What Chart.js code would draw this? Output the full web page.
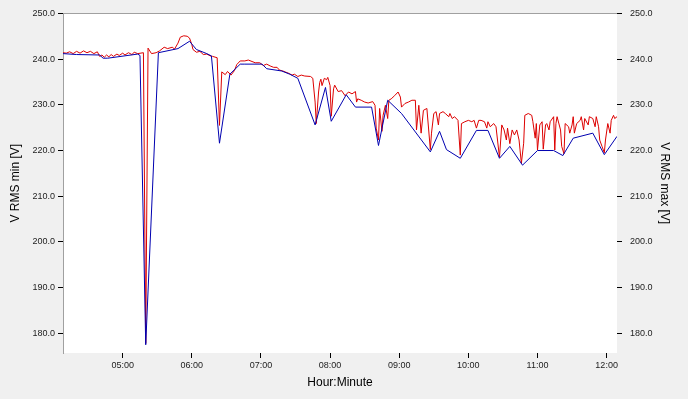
<!DOCTYPE html>
<html>
  <head>
    <title>V RMS min / max</title>
    <style>
      body {
        margin: 0;
        padding: 0;
        background-color: #f0f0f0;
      }

      #chart-container {
        width: 688px;
        height: 399px;
      }
    </style>
  </head>
  <body>
    <div id="chart-container">
      <canvas id="vrms-chart" width="688" height="399"></canvas>
    </div>

    <script src="https://cdn.jsdelivr.net/npm/chart.js"></script>
    <script>
      // V RMS min (left axis, blue)
      const minTimes = [
        "04:08", "04:20", "04:40", "04:43", "04:47", "05:13", "05:15", "05:20",
        "05:31", "05:48", "05:58", "06:04", "06:13", "06:17", "06:24", "06:33",
        "06:42", "06:46", "07:01", "07:05", "07:18", "07:25", "07:32", "07:47",
        "07:56", "08:01", "08:14", "08:22", "08:36", "08:42", "08:50", "09:02",
        "09:27", "09:35", "09:41", "09:53", "10:07", "10:17", "10:27", "10:36",
        "10:47", "11:00", "11:14", "11:22", "11:31", "11:48", "11:58", "12:09",
      ];
      const minValues = [
        241.2, 241.0, 240.9, 240.2, 240.2, 241.1, 240.8, 177.5,
        241.4, 242.3, 243.9, 242.1, 241.2, 240.7, 221.6, 236.7,
        238.9, 238.9, 238.9, 237.9, 237.4, 236.7, 235.8, 225.6,
        233.8, 226.4, 232.2, 229.5, 229.5, 221.1, 231.0, 228.1,
        219.7, 224.2, 220.2, 218.3, 224.4, 224.4, 218.3, 220.9,
        216.8, 220.0, 220.0, 218.9, 222.7, 223.8, 219.1, 223.1,
      ];

      // V RMS max (right axis, red)
      const maxTimes = [
        "04:08", "04:11", "04:14", "04:17", "04:20", "04:23", "04:26", "04:29",
        "04:32", "04:35", "04:38", "04:40", "04:42", "04:44", "04:46", "04:48",
        "04:50", "04:52", "04:55", "04:57", "05:00", "05:02", "05:05", "05:08",
        "05:10", "05:13", "05:18", "05:20", "05:22", "05:25", "05:29", "05:32",
        "05:36", "05:39", "05:43", "05:45", "05:48", "05:50", "05:53", "05:56",
        "05:58", "06:00", "06:01", "06:04", "06:07", "06:10", "06:13", "06:16",
        "06:18", "06:22", "06:24", "06:26", "06:29", "06:31", "06:34", "06:37",
        "06:39", "06:42", "06:46", "06:49", "06:55", "06:59", "07:02", "07:05",
        "07:08", "07:11", "07:14", "07:16", "07:19", "07:21", "07:24", "07:27",
        "07:29", "07:32", "07:35", "07:38", "07:43", "07:45", "07:47", "07:48",
        "07:50", "07:51", "07:52", "07:53", "07:55", "07:57", "07:58", "08:00",
        "08:01", "08:03", "08:04", "08:07", "08:10", "08:13", "08:16", "08:19",
        "08:22", "08:23", "08:24", "08:27", "08:30", "08:33", "08:37", "08:39",
        "08:40", "08:42", "08:43", "08:45", "08:46", "08:48", "08:50", "08:51",
        "08:53", "08:56", "08:59", "09:01", "09:02", "09:05", "09:08", "09:11",
        "09:14", "09:15", "09:17", "09:19", "09:21", "09:24", "09:27", "09:28",
        "09:30", "09:32", "09:34", "09:35", "09:38", "09:40", "09:43", "09:44",
        "09:46", "09:48", "09:51", "09:53", "09:54", "09:57", "10:00", "10:03",
        "10:05", "10:07", "10:09", "10:11", "10:14", "10:16", "10:17", "10:19",
        "10:22", "10:24", "10:27", "10:29", "10:31", "10:33", "10:34", "10:36",
        "10:38", "10:40", "10:42", "10:44", "10:46", "10:48", "10:49", "10:52",
        "10:55", "10:56", "10:58", "10:59", "11:00", "11:02", "11:04", "11:05",
        "11:07", "11:08", "11:10", "11:11", "11:14", "11:15", "11:16", "11:17",
        "11:20", "11:21", "11:23", "11:24", "11:27", "11:28", "11:30", "11:31",
        "11:32", "11:34", "11:37", "11:38", "11:40", "11:41", "11:44", "11:45",
        "11:48", "11:50", "11:51", "11:53", "11:54", "11:56", "11:58", "11:59",
        "12:01", "12:03", "12:04", "12:06", "12:07", "12:09",
      ];
      const maxValues = [
        241.4, 241.3, 241.6, 241.2, 241.7, 241.3, 241.8, 241.4,
        241.7, 241.2, 241.6, 240.6, 240.9, 240.4, 240.9, 240.5,
        241.0, 240.6, 241.1, 240.8, 241.3, 240.9, 241.4, 241.0,
        241.5, 241.2, 241.4, 177.8, 242.4, 241.2, 241.4, 241.8,
        242.6, 242.3, 242.6, 242.2, 243.5, 244.8, 245.1, 245.0,
        244.6, 243.2, 242.1, 241.5, 241.7, 241.0, 241.1, 240.7,
        240.6, 240.3, 225.5, 237.2, 236.6, 237.3, 236.5, 237.5,
        238.8, 239.6, 239.6, 239.8, 239.2, 239.2, 238.6, 238.9,
        238.5, 238.2, 238.2, 237.6, 237.4, 237.2, 236.9, 236.5,
        236.7, 236.2, 236.5, 236.3, 236.2, 235.8, 230.6, 225.9,
        232.8, 234.9, 235.6, 234.2, 235.8, 235.5, 236.0, 234.2,
        227.5, 233.5, 234.3, 232.9, 233.1, 232.0, 232.8, 232.4,
        232.9, 230.6, 231.3, 231.0, 230.6, 230.4, 230.7, 229.9,
        224.9, 222.3, 229.2, 224.2, 227.7, 229.9, 227.0, 231.0,
        231.3, 232.0, 232.8, 231.7, 229.5, 230.3, 230.6, 231.0,
        231.0, 224.5, 229.9, 223.8, 228.8, 229.2, 220.2, 223.8,
        228.1, 228.5, 225.6, 228.1, 228.5, 228.1, 227.4, 228.1,
        227.0, 227.4, 226.6, 219.0, 225.9, 226.3, 226.6, 226.3,
        226.6, 224.9, 226.6, 226.6, 226.3, 224.9, 226.3, 225.2,
        225.9, 225.2, 218.5, 225.6, 224.5, 222.3, 224.9, 221.5,
        224.5, 223.4, 224.5, 222.3, 217.2, 221.6, 227.7, 228.1,
        227.7, 226.3, 222.7, 225.9, 220.1, 225.6, 226.3, 220.3,
        225.6, 225.9, 224.5, 226.3, 227.4, 220.1, 225.9, 227.4,
        224.5, 220.9, 219.3, 225.9, 225.2, 223.8, 225.6, 227.4,
        223.8, 225.9, 226.6, 227.4, 224.5, 227.0, 225.6, 227.4,
        227.0, 225.2, 227.4, 225.2, 222.3, 220.9, 219.5, 222.3,
        225.9, 223.8, 226.6, 227.7, 227.0, 227.4,
      ];

      const xTickLabels = ["05:00", "06:00", "07:00", "08:00", "09:00", "10:00", "11:00", "12:00"];
      const xRange = ["04:08", "12:09"];
      const yTickValues = [180, 190, 200, 210, 220, 230, 240, 250];
      const yRange = [175.7, 250];

      function toMinutes(hhmm) {
        const parts = hhmm.split(":");
        return Number(parts[0]) * 60 + Number(parts[1]) + (hhmm === xRange[0] ? 0.2 : 0);
      }

      function toHHMM(min) {
        const h = Math.floor(min / 60);
        const m = Math.round(min % 60);
        return String(h).padStart(2, "0") + ":" + String(m).padStart(2, "0");
      }

      function toPoints(times, values) {
        return times.map((t, i) => ({ x: toMinutes(t), y: values[i] }));
      }

      const tickFont = { family: "'Liberation Sans', Arial, sans-serif", size: 9 };
      const titleFont = { family: "'Liberation Sans', Arial, sans-serif", size: 12 };

      // grey page, white plot area, grey top edge
      const plotBackground = {
        id: "plotBackground",
        beforeDraw(chart) {
          const { ctx, chartArea } = chart;
          ctx.save();
          ctx.fillStyle = "#f0f0f0";
          ctx.fillRect(0, 0, chart.width, chart.height);
          ctx.fillStyle = "#ffffff";
          ctx.fillRect(chartArea.left, chartArea.top, chartArea.right - chartArea.left, chartArea.bottom - chartArea.top);
          ctx.strokeStyle = "#a0a0a0";
          ctx.lineWidth = 1;
          ctx.beginPath();
          ctx.moveTo(chartArea.left, Math.round(chartArea.top) + 0.5);
          ctx.lineTo(chartArea.right, Math.round(chartArea.top) + 0.5);
          ctx.stroke();
          ctx.restore();
        },
      };

      const ctx = document.getElementById("vrms-chart").getContext("2d");

      const chart = new Chart(ctx, {
        type: "line",
        data: {
          datasets: [
            {
              label: "V RMS min",
              data: toPoints(minTimes, minValues),
              borderColor: "#0000b0",
              borderWidth: 1,
              pointRadius: 0,
              tension: 0,
              yAxisID: "y",
            },
            {
              label: "V RMS max",
              data: toPoints(maxTimes, maxValues),
              borderColor: "#dd0000",
              borderWidth: 1,
              pointRadius: 0,
              tension: 0,
              yAxisID: "y1",
            },
          ],
        },
        options: {
          responsive: false,
          animation: false,
          devicePixelRatio: 1,
          layout: { padding: { top: 8, left: 0, right: 0, bottom: 0 } },
          plugins: {
            legend: { display: false },
            tooltip: { enabled: false },
          },
          scales: {
            x: {
              type: "linear",
              min: toMinutes(xRange[0]),
              max: toMinutes(xRange[1]),
              afterBuildTicks: (axis) => {
                axis.ticks = xTickLabels.map((t) => ({ value: toMinutes(t) }));
              },
              afterFit: (scale) => {
                scale.height = 46;
              },
              border: { display: false },
              grid: { drawOnChartArea: false, drawTicks: true, tickLength: 5, color: "#000000" },
              ticks: {
                font: tickFont,
                color: "#222222",
                padding: 2,
                maxRotation: 0,
                callback: (v) => toHHMM(v),
              },
              title: {
                display: true,
                text: "Hour:Minute",
                font: titleFont,
                color: "#000000",
                padding: { top: 0, bottom: 9 },
              },
            },
            y: {
              position: "left",
              min: yRange[0],
              max: yRange[1],
              afterBuildTicks: (axis) => {
                axis.ticks = yTickValues.map((v) => ({ value: v }));
              },
              afterFit: (scale) => {
                scale.width = 63;
              },
              border: { display: true, color: "#a0a0a0" },
              grid: { drawOnChartArea: false, drawTicks: true, tickLength: 5, color: "#000000" },
              ticks: {
                font: tickFont,
                color: "#222222",
                padding: 3,
                callback: (v) => v.toFixed(1),
              },
              title: {
                display: true,
                text: "V RMS min [V]",
                font: titleFont,
                color: "#000000",
                padding: { top: 8, bottom: 0 },
              },
            },
            y1: {
              position: "right",
              min: yRange[0],
              max: yRange[1],
              afterBuildTicks: (axis) => {
                axis.ticks = yTickValues.map((v) => ({ value: v }));
              },
              afterFit: (scale) => {
                scale.width = 71;
              },
              border: { display: false },
              grid: { drawOnChartArea: false, drawTicks: true, tickLength: 5, color: "#000000" },
              ticks: {
                font: tickFont,
                color: "#222222",
                padding: 8,
                callback: (v) => v.toFixed(1),
              },
              title: {
                display: true,
                text: "V RMS max [V]",
                font: titleFont,
                color: "#000000",
                padding: { top: 16, bottom: 0 },
              },
            },
          },
        },
        plugins: [plotBackground],
      });
    </script>
  </body>
</html>
